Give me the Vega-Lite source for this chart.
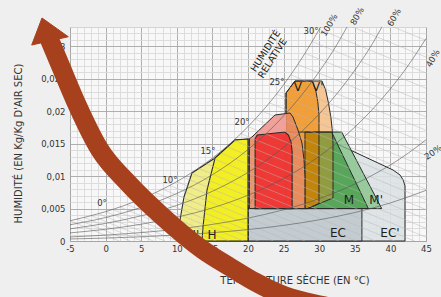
{
"$schema": "https://vega.github.io/schema/vega-lite/v6.json",
"width": 356, "height": 214,
"autosize": {"type": "none"},
"padding": {"left": 70, "top": 27, "right": 15, "bottom": 56},
"background": "#efefef",
"config": {"view": {"stroke": "#a0a0a0", "fill": "#f8f8f8"}, "font": "DejaVu Sans"},
"datasets": {
"zones": [
{"s":"ECp","i":0,"x":20,"y":0},{"s":"ECp","i":1,"x":20,"y":0.005},{"s":"ECp","i":2,"x":24,"y":0.0145},{"s":"ECp","i":3,"x":28,"y":0.0172},{"s":"ECp","i":4,"x":31.94,"y":0.01527},{"s":"ECp","i":5,"x":40.37,"y":0.01095},{"s":"ECp","i":6,"x":41.35,"y":0.01018},{"s":"ECp","i":7,"x":41.8,"y":0.0094},{"s":"ECp","i":8,"x":42.05,"y":0.0085},{"s":"ECp","i":9,"x":42.05,"y":0},
{"s":"EC","i":0,"x":20,"y":0},{"s":"EC","i":1,"x":20,"y":0.005},{"s":"EC","i":2,"x":36,"y":0.005},{"s":"EC","i":3,"x":36,"y":0},
{"s":"Mp","i":0,"x":25.3,"y":0.005},{"s":"Mp","i":1,"x":25.3,"y":0.0168},{"s":"Mp","i":2,"x":33.16,"y":0.0168},{"s":"Mp","i":3,"x":38.78,"y":0.005},
{"s":"M","i":0,"x":28,"y":0.005},{"s":"M","i":1,"x":28,"y":0.0168},{"s":"M","i":2,"x":31.75,"y":0.0168},{"s":"M","i":3,"x":36.9,"y":0.005},
{"s":"Vp","i":0,"x":25.34,"y":0.005},{"s":"Vp","i":1,"x":28.36,"y":0.005},{"s":"Vp","i":2,"x":31.94,"y":0.00664},{"s":"Vp","i":3,"x":31.94,"y":0.015},{"s":"Vp","i":4,"x":31.85,"y":0.017},{"s":"Vp","i":5,"x":31.65,"y":0.019},{"s":"Vp","i":6,"x":31.3,"y":0.0213},{"s":"Vp","i":7,"x":30.9,"y":0.0233},{"s":"Vp","i":8,"x":30.39,"y":0.02467},{"s":"Vp","i":9,"x":26.6,"y":0.02467},{"s":"Vp","i":10,"x":25.34,"y":0.02282},
{"s":"V","i":0,"x":25.34,"y":0.005},{"s":"V","i":1,"x":28.36,"y":0.005},{"s":"V","i":2,"x":29.97,"y":0.00578},{"s":"V","i":3,"x":29.97,"y":0.0195},{"s":"V","i":4,"x":29.8,"y":0.0215},{"s":"V","i":5,"x":29.5,"y":0.0233},{"s":"V","i":6,"x":29.0,"y":0.02467},{"s":"V","i":7,"x":26.6,"y":0.02467},{"s":"V","i":8,"x":25.34,"y":0.02282},
{"s":"Br","i":0,"x":28,"y":0.005},{"s":"Br","i":1,"x":28.36,"y":0.005},{"s":"Br","i":2,"x":29.97,"y":0.00578},{"s":"Br","i":3,"x":29.97,"y":0.0168},{"s":"Br","i":4,"x":28,"y":0.0168},
{"s":"Ol","i":0,"x":29.97,"y":0.00578},{"s":"Ol","i":1,"x":31.94,"y":0.00664},{"s":"Ol","i":2,"x":31.94,"y":0.0163},{"s":"Ol","i":3,"x":31.75,"y":0.0168},{"s":"Ol","i":4,"x":29.97,"y":0.0168},
{"s":"Cp","i":0,"x":20.2,"y":0.005},{"s":"Cp","i":1,"x":20.2,"y":0.0158},{"s":"Cp","i":2,"x":20.56,"y":0.01604},{"s":"Cp","i":3,"x":23.79,"y":0.01943},{"s":"Cp","i":4,"x":25.9,"y":0.01974},{"s":"Cp","i":5,"x":26.32,"y":0.01912},{"s":"Cp","i":6,"x":27.02,"y":0.01712},{"s":"Cp","i":7,"x":27.58,"y":0.01511},{"s":"Cp","i":8,"x":27.87,"y":0.01249},{"s":"Cp","i":9,"x":28,"y":0.01},{"s":"Cp","i":10,"x":28,"y":0.005},
{"s":"Pk","i":0,"x":20.2,"y":0.0158},{"s":"Pk","i":1,"x":20.56,"y":0.01604},{"s":"Pk","i":2,"x":23.79,"y":0.01943},{"s":"Pk","i":3,"x":25.34,"y":0.01962},{"s":"Pk","i":4,"x":25.34,"y":0.0162},{"s":"Pk","i":5,"x":21,"y":0.0157},
{"s":"R","i":0,"x":21,"y":0.005},{"s":"R","i":1,"x":21,"y":0.0158},{"s":"R","i":2,"x":21.3,"y":0.01635},{"s":"R","i":3,"x":25.2,"y":0.0168},{"s":"R","i":4,"x":25.7,"y":0.0163},{"s":"R","i":5,"x":26.05,"y":0.0152},{"s":"R","i":6,"x":26.2,"y":0.0138},{"s":"R","i":7,"x":26.2,"y":0.005},
{"s":"Hp","i":0,"x":10.17,"y":0},{"s":"Hp","i":1,"x":10.45,"y":0.00324},{"s":"Hp","i":2,"x":11.01,"y":0.00679},{"s":"Hp","i":3,"x":12.13,"y":0.01049},{"s":"Hp","i":4,"x":15.37,"y":0.0128},{"s":"Hp","i":5,"x":18.17,"y":0.01557},{"s":"Hp","i":6,"x":20,"y":0.01573},{"s":"Hp","i":7,"x":20,"y":0},
{"s":"H","i":0,"x":13.54,"y":0},{"s":"H","i":1,"x":13.68,"y":0.00216},{"s":"H","i":2,"x":14.24,"y":0.00786},{"s":"H","i":3,"x":15.37,"y":0.0128},{"s":"H","i":4,"x":18.17,"y":0.01557},{"s":"H","i":5,"x":20,"y":0.01573},{"s":"H","i":6,"x":20,"y":0}
],
"rh": [
{"c":100,"x":-5,"y":0.00312},{"c":100,"x":-2.5,"y":0.00378},{"c":100,"x":0,"y":0.00453},{"c":100,"x":2.5,"y":0.00543},{"c":100,"x":5,"y":0.00648},{"c":100,"x":7.5,"y":0.00772},{"c":100,"x":10,"y":0.00916},{"c":100,"x":12.5,"y":0.01083},{"c":100,"x":15,"y":0.01278},{"c":100,"x":17.5,"y":0.01503},{"c":100,"x":20,"y":0.01764},{"c":100,"x":22.5,"y":0.02064},{"c":100,"x":25,"y":0.0241},{"c":100,"x":27.5,"y":0.02807},{"c":100,"x":30.2,"y":0.033},
{"c":80,"x":-5,"y":0.0025},{"c":80,"x":-2.5,"y":0.00302},{"c":80,"x":0,"y":0.00362},{"c":80,"x":2.5,"y":0.00434},{"c":80,"x":5,"y":0.00518},{"c":80,"x":7.5,"y":0.00618},{"c":80,"x":10,"y":0.00733},{"c":80,"x":12.5,"y":0.00866},{"c":80,"x":15,"y":0.01022},{"c":80,"x":17.5,"y":0.01202},{"c":80,"x":20,"y":0.01411},{"c":80,"x":22.5,"y":0.01651},{"c":80,"x":25,"y":0.01928},{"c":80,"x":27.5,"y":0.02246},{"c":80,"x":30,"y":0.02612},{"c":80,"x":32.5,"y":0.03031},{"c":80,"x":33.9,"y":0.033},
{"c":60,"x":-5,"y":0.00187},{"c":60,"x":-2.5,"y":0.00227},{"c":60,"x":0,"y":0.00272},{"c":60,"x":2.5,"y":0.00326},{"c":60,"x":5,"y":0.00389},{"c":60,"x":7.5,"y":0.00463},{"c":60,"x":10,"y":0.0055},{"c":60,"x":12.5,"y":0.0065},{"c":60,"x":15,"y":0.00767},{"c":60,"x":17.5,"y":0.00902},{"c":60,"x":20,"y":0.01058},{"c":60,"x":22.5,"y":0.01238},{"c":60,"x":25,"y":0.01446},{"c":60,"x":27.5,"y":0.01684},{"c":60,"x":30,"y":0.01959},{"c":60,"x":32.5,"y":0.02273},{"c":60,"x":35,"y":0.02634},{"c":60,"x":37.5,"y":0.03047},{"c":60,"x":38.8,"y":0.033},
{"c":40,"x":-5,"y":0.00125},{"c":40,"x":-2.5,"y":0.00151},{"c":40,"x":0,"y":0.00181},{"c":40,"x":2.5,"y":0.00217},{"c":40,"x":5,"y":0.00259},{"c":40,"x":7.5,"y":0.00309},{"c":40,"x":10,"y":0.00366},{"c":40,"x":12.5,"y":0.00433},{"c":40,"x":15,"y":0.00511},{"c":40,"x":17.5,"y":0.00601},{"c":40,"x":20,"y":0.00706},{"c":40,"x":22.5,"y":0.00826},{"c":40,"x":25,"y":0.00964},{"c":40,"x":27.5,"y":0.01123},{"c":40,"x":30,"y":0.01306},{"c":40,"x":32.5,"y":0.01516},{"c":40,"x":35,"y":0.01756},{"c":40,"x":37.5,"y":0.02032},{"c":40,"x":40,"y":0.02347},{"c":40,"x":42.5,"y":0.02707},{"c":40,"x":45,"y":0.03123},
{"c":20,"x":-5,"y":0.00062},{"c":20,"x":-2.5,"y":0.00076},{"c":20,"x":0,"y":0.00091},{"c":20,"x":2.5,"y":0.00109},{"c":20,"x":5,"y":0.0013},{"c":20,"x":7.5,"y":0.00154},{"c":20,"x":10,"y":0.00183},{"c":20,"x":12.5,"y":0.00217},{"c":20,"x":15,"y":0.00256},{"c":20,"x":17.5,"y":0.00301},{"c":20,"x":20,"y":0.00353},{"c":20,"x":22.5,"y":0.00413},{"c":20,"x":25,"y":0.00482},{"c":20,"x":27.5,"y":0.00561},{"c":20,"x":30,"y":0.00653},{"c":20,"x":32.5,"y":0.00758},{"c":20,"x":35,"y":0.00878},{"c":20,"x":37.5,"y":0.01016},{"c":20,"x":40,"y":0.01173},{"c":20,"x":42.5,"y":0.01354},{"c":20,"x":45,"y":0.01561},
{"c":10,"x":-5,"y":0.00031},{"c":10,"x":0,"y":0.00045},{"c":10,"x":5,"y":0.00065},{"c":10,"x":10,"y":0.00092},{"c":10,"x":15,"y":0.00128},{"c":10,"x":20,"y":0.00176},{"c":10,"x":25,"y":0.00241},{"c":10,"x":30,"y":0.00327},{"c":10,"x":35,"y":0.00439},{"c":10,"x":40,"y":0.00587},{"c":10,"x":45,"y":0.00781}
],
"wb": [
{"t":-5,"x":-5,"y":0.00312},{"t":-5,"x":1.93,"y":0},
{"t":-4,"x":-4,"y":0.00336},{"t":-4,"x":3.47,"y":0},
{"t":-3,"x":-3,"y":0.00363},{"t":-3,"x":5.07,"y":0},
{"t":-2,"x":-2,"y":0.00391},{"t":-2,"x":6.69,"y":0},
{"t":-1,"x":-1,"y":0.00421},{"t":-1,"x":8.36,"y":0},
{"t":0,"x":0,"y":0.00453},{"t":0,"x":10.07,"y":0},
{"t":1,"x":1,"y":0.00487},{"t":1,"x":11.82,"y":0},
{"t":2,"x":2,"y":0.00524},{"t":2,"x":13.64,"y":0},
{"t":3,"x":3,"y":0.00563},{"t":3,"x":15.51,"y":0},
{"t":4,"x":4,"y":0.00604},{"t":4,"x":17.42,"y":0},
{"t":5,"x":5,"y":0.00648},{"t":5,"x":19.4,"y":0},
{"t":6,"x":6,"y":0.00696},{"t":6,"x":21.47,"y":0},
{"t":7,"x":7,"y":0.00746},{"t":7,"x":23.58,"y":0},
{"t":8,"x":8,"y":0.00799},{"t":8,"x":25.76,"y":0},
{"t":9,"x":9,"y":0.00856},{"t":9,"x":28.02,"y":0},
{"t":10,"x":10,"y":0.00916},{"t":10,"x":30.36,"y":0},
{"t":11,"x":11,"y":0.0098},{"t":11,"x":32.78,"y":0},
{"t":12,"x":12,"y":0.01048},{"t":12,"x":35.29,"y":0},
{"t":13,"x":13,"y":0.0112},{"t":13,"x":37.89,"y":0},
{"t":14,"x":14,"y":0.01197},{"t":14,"x":40.6,"y":0},
{"t":15,"x":15,"y":0.01278},{"t":15,"x":43.4,"y":0},
{"t":16,"x":16,"y":0.01364},{"t":16,"x":45,"y":0.00059},
{"t":17,"x":17,"y":0.01456},{"t":17,"x":45,"y":0.00196},
{"t":18,"x":18,"y":0.01553},{"t":18,"x":45,"y":0.00338},
{"t":19,"x":19,"y":0.01655},{"t":19,"x":45,"y":0.00485},
{"t":20,"x":20,"y":0.01764},{"t":20,"x":45,"y":0.00639},
{"t":21,"x":21,"y":0.01879},{"t":21,"x":45,"y":0.00799},
{"t":22,"x":22,"y":0.02001},{"t":22,"x":45,"y":0.00966},
{"t":23,"x":23,"y":0.0213},{"t":23,"x":45,"y":0.0114},
{"t":24,"x":24,"y":0.02266},{"t":24,"x":45,"y":0.01321},
{"t":25,"x":25,"y":0.0241},{"t":25,"x":45,"y":0.0151},
{"t":26,"x":26,"y":0.02563},{"t":26,"x":45,"y":0.01708},
{"t":27,"x":27,"y":0.02724},{"t":27,"x":45,"y":0.01914},
{"t":28,"x":28,"y":0.02895},{"t":28,"x":45,"y":0.0213},
{"t":29,"x":29,"y":0.03075},{"t":29,"x":45,"y":0.02355},
{"t":30,"x":30,"y":0.03265},{"t":30,"x":45,"y":0.0259},
{"t":31,"x":31,"y":0.03466},{"t":31,"x":45,"y":0.02836},
{"t":32,"x":32,"y":0.03679},{"t":32,"x":45,"y":0.03094}
],
"zlab": [
{"t":"V","x":27.02,"y":0.0237},{"t":"V'","x":29.8,"y":0.0237},{"t":"M","x":34.19,"y":0.0063},{"t":"M'","x":38.0,"y":0.0063},{"t":"EC","x":32.64,"y":0.0012},{"t":"EC'","x":39.94,"y":0.0012},{"t":"H","x":14.94,"y":0.0009},{"t":"H'","x":12.3,"y":0.0009}
],
"tlab": [
{"t":"0°","x":-0.51,"y":0.00586},{"t":"10°","x":9.04,"y":0.00941},{"t":"15°","x":14.38,"y":0.01388},{"t":"20°","x":19.16,"y":0.01835},{"t":"25°","x":24.07,"y":0.0245},{"t":"30°","x":28.85,"y":0.0324}
],
"rhlab": [
{"t":"100%","x":31.38,"y":0.0333},{"t":"80%","x":35.31,"y":0.0347},{"t":"60%","x":40.51,"y":0.0345},{"t":"40%","x":45.95,"y":0.0282}
],
"rhlab2": [{"t":"20%","x":46.0,"y":0.0137}],
"hr": [{"t":"HUMIDITÉ","x":22.46,"y":0.0293},{"t":"RELATIVE","x":23.44,"y":0.02817}],
"arrow": [
{"i":0,"x":-8.09,"y":0.03161},{"i":1,"x":-6.264,"y":0.02683},{"i":2,"x":-4.298,"y":0.02174},{"i":3,"x":-0.787,"y":0.01403},{"i":4,"x":3.146,"y":0.00894},{"i":5,"x":8.062,"y":0.0037},{"i":6,"x":13.68,"y":-0.00139},{"i":7,"x":17.472,"y":-0.00401},{"i":8,"x":20.983,"y":-0.00632},{"i":9,"x":25.197,"y":-0.00848},{"i":10,"x":30.112,"y":-0.00987},{"i":11,"x":35.73,"y":-0.01095}
],
"head": [
{"i":0,"x":-8.933,"y":0.03439},{"i":1,"x":-10.379,"y":0.03022},{"i":2,"x":-5.239,"y":0.0315}
]
},
"encoding": {
"x": {"field":"x","type":"quantitative","scale":{"domain":[-5,45],"nice":false,"zero":false},
 "axis":{"values":[-5,-4,-3,-2,-1,0,1,2,3,4,5,6,7,8,9,10,11,12,13,14,15,16,17,18,19,20,21,22,23,24,25,26,27,28,29,30,31,32,33,34,35,36,37,38,39,40,41,42,43,44,45],
 "grid":true,"gridColor":{"condition":{"test":"datum.value % 5 === 0","value":"#a6a6a6"},"value":"#d9d9d9"},"gridWidth":0.9,
 "ticks":false,"domain":false,"labelExpr":"datum.value % 5 === 0 ? toString(datum.value) : ''",
 "labelFont":"DejaVu Sans","labelFontSize":8.5,"labelColor":"#333333","labelPadding":3,"labelOverlap":false,"labelFlush":false,"labelBound":false,
 "title":"TEMPÉRATURE SÈCHE (EN °C)","titleFont":"DejaVu Sans","titleFontSize":10,"titleFontWeight":"normal","titleColor":"#333333","titleX":224.5,"titleY":39,"titleAlign":"center","titleBaseline":"middle"}},
"y": {"field":"y","type":"quantitative","scale":{"domain":[0,0.033],"nice":false},
 "axis":{"values":[0,0.001,0.002,0.003,0.004,0.005,0.006,0.007,0.008,0.009,0.01,0.011,0.012,0.013,0.014,0.015,0.016,0.017,0.018,0.019,0.02,0.021,0.022,0.023,0.024,0.025,0.026,0.027,0.028,0.029,0.03,0.031,0.032,0.033],
 "grid":true,"gridColor":{"condition":{"test":"abs(datum.value*200 - round(datum.value*200)) < 0.000001","value":"#a6a6a6"},"value":"#d9d9d9"},"gridWidth":0.9,
 "ticks":false,"domain":false,"labelExpr":"abs(datum.value*200 - round(datum.value*200)) < 0.000001 ? replace(toString(datum.value), '.', ',') : ''",
 "labelFont":"DejaVu Sans","labelFontSize":8.5,"labelColor":"#333333","labelPadding":5,"labelOverlap":false,"labelFlush":false,"labelBound":false,
 "title":"HUMIDITÉ (EN Kg/Kg D'AIR SEC)","titleFont":"DejaVu Sans","titleFontSize":10,"titleFontWeight":"normal","titleColor":"#333333","titleX":-52,"titleY":116,"titleAngle":270,"titleAlign":"center","titleBaseline":"middle"}}
},
"layer": [
{"data":{"name":"zones"},"transform":[{"filter":"datum.s === 'ECp'"}],"mark":{"type":"line","interpolate":"linear-closed","fill":"#dce1e4","fillOpacity":0.9,"stroke":"#2b2b2b","strokeWidth":1},"encoding":{"order":{"field":"i","type":"quantitative"}}},
{"data":{"name":"zones"},"transform":[{"filter":"datum.s === 'EC'"}],"mark":{"type":"line","interpolate":"linear-closed","fill":"#c0c9ce","fillOpacity":0.9,"stroke":"#2b2b2b","strokeWidth":1},"encoding":{"order":{"field":"i","type":"quantitative"}}},
{"data":{"name":"zones"},"transform":[{"filter":"datum.s === 'Mp'"}],"mark":{"type":"line","interpolate":"linear-closed","fill":"#7fc183","fillOpacity":0.75,"stroke":"transparent","strokeWidth":0},"encoding":{"order":{"field":"i","type":"quantitative"}}},
{"data":{"name":"zones"},"transform":[{"filter":"datum.s === 'M'"}],"mark":{"type":"line","interpolate":"linear-closed","fill":"#4ea151","fillOpacity":0.88,"stroke":"transparent","strokeWidth":0},"encoding":{"order":{"field":"i","type":"quantitative"}}},
{"data":{"name":"zones"},"transform":[{"filter":"datum.s === 'Vp'"}],"mark":{"type":"line","interpolate":"linear-closed","fill":"#f5c08a","fillOpacity":0.9,"stroke":"transparent","strokeWidth":0},"encoding":{"order":{"field":"i","type":"quantitative"}}},
{"data":{"name":"zones"},"transform":[{"filter":"datum.s === 'V'"}],"mark":{"type":"line","interpolate":"linear-closed","fill":"#f09a30","fillOpacity":0.9,"stroke":"transparent","strokeWidth":0},"encoding":{"order":{"field":"i","type":"quantitative"}}},
{"data":{"name":"zones"},"transform":[{"filter":"datum.s === 'Br'"}],"mark":{"type":"line","interpolate":"linear-closed","fill":"#bb820a","fillOpacity":0.9,"stroke":"transparent","strokeWidth":0},"encoding":{"order":{"field":"i","type":"quantitative"}}},
{"data":{"name":"zones"},"transform":[{"filter":"datum.s === 'Ol'"}],"mark":{"type":"line","interpolate":"linear-closed","fill":"#879838","fillOpacity":0.9,"stroke":"transparent","strokeWidth":0},"encoding":{"order":{"field":"i","type":"quantitative"}}},
{"data":{"name":"zones"},"transform":[{"filter":"datum.s === 'Mp' || datum.s === 'M'"}],"mark":{"type":"line","interpolate":"linear-closed","stroke":"#2b2b2b","strokeWidth":1},"encoding":{"detail":{"field":"s"},"order":{"field":"i","type":"quantitative"}}},
{"data":{"name":"zones"},"transform":[{"filter":"datum.s === 'Vp' || datum.s === 'V'"}],"mark":{"type":"line","interpolate":"linear-closed","stroke":"#2b2b2b","strokeWidth":1},"encoding":{"detail":{"field":"s"},"order":{"field":"i","type":"quantitative"}}},
{"data":{"name":"zones"},"transform":[{"filter":"datum.s === 'Cp'"}],"mark":{"type":"line","interpolate":"linear-closed","fill":"#e8895f","fillOpacity":0.9,"stroke":"transparent","strokeWidth":0},"encoding":{"order":{"field":"i","type":"quantitative"}}},
{"data":{"name":"zones"},"transform":[{"filter":"datum.s === 'Pk'"}],"mark":{"type":"line","interpolate":"linear-closed","fill":"#f2a09c","fillOpacity":0.95,"stroke":"transparent","strokeWidth":0},"encoding":{"order":{"field":"i","type":"quantitative"}}},
{"data":{"name":"zones"},"transform":[{"filter":"datum.s === 'Cp'"}],"mark":{"type":"line","interpolate":"linear-closed","stroke":"#2b2b2b","strokeWidth":1},"encoding":{"order":{"field":"i","type":"quantitative"}}},
{"data":{"name":"zones"},"transform":[{"filter":"datum.s === 'R'"}],"mark":{"type":"line","interpolate":"linear-closed","fill":"#ee3030","fillOpacity":0.9,"stroke":"#2b2b2b","strokeWidth":1.1},"encoding":{"order":{"field":"i","type":"quantitative"}}},
{"data":{"name":"zones"},"transform":[{"filter":"datum.s === 'Hp'"}],"mark":{"type":"line","interpolate":"linear-closed","fill":"#efeb7c","fillOpacity":0.9,"stroke":"#2b2b2b","strokeWidth":1.1},"encoding":{"order":{"field":"i","type":"quantitative"}}},
{"data":{"name":"zones"},"transform":[{"filter":"datum.s === 'H'"}],"mark":{"type":"line","interpolate":"linear-closed","fill":"#f3ee1a","fillOpacity":0.9,"stroke":"#2b2b2b","strokeWidth":1.1},"encoding":{"order":{"field":"i","type":"quantitative"}}},
{"data":{"name":"wb"},"mark":{"type":"line","clip":true,"stroke":"#b8b8b8","strokeWidth":0.6,"strokeOpacity":0.8},"encoding":{"detail":{"field":"t"}}},
{"data":{"name":"rh"},"mark":{"type":"line","clip":true,"interpolate":"monotone","stroke":"#555555","strokeWidth":0.8,"strokeOpacity":0.75},"encoding":{"detail":{"field":"c"}}},
{"data":{"name":"zlab"},"mark":{"type":"text","font":"DejaVu Sans","fontSize":12,"color":"#1e1e1e","align":"center","baseline":"middle"},"encoding":{"text":{"field":"t"}}},
{"data":{"name":"tlab"},"mark":{"type":"text","font":"DejaVu Sans","fontSize":8.5,"color":"#333333","align":"center","baseline":"middle"},"encoding":{"text":{"field":"t"}}},
{"data":{"name":"rhlab"},"mark":{"type":"text","font":"DejaVu Sans","fontSize":8.5,"color":"#333333","align":"center","baseline":"middle","angle":-60},"encoding":{"text":{"field":"t"}}},
{"data":{"name":"rhlab2"},"mark":{"type":"text","font":"DejaVu Sans","fontSize":8.5,"color":"#333333","align":"center","baseline":"middle","angle":-35},"encoding":{"text":{"field":"t"}}},
{"data":{"name":"hr"},"mark":{"type":"text","font":"DejaVu Sans","fontSize":9.5,"color":"#222222","align":"center","baseline":"middle","angle":-57.5},"encoding":{"text":{"field":"t"}}},
{"data":{"name":"arrow"},"mark":{"type":"line","interpolate":"monotone","stroke":"#a7401d","strokeWidth":19,"strokeCap":"butt"},"encoding":{"order":{"field":"i","type":"quantitative"}}},
{"data":{"name":"head"},"mark":{"type":"line","interpolate":"linear-closed","fill":"#a7401d","stroke":"#a7401d","strokeWidth":1},"encoding":{"order":{"field":"i","type":"quantitative"}}}
]
}
